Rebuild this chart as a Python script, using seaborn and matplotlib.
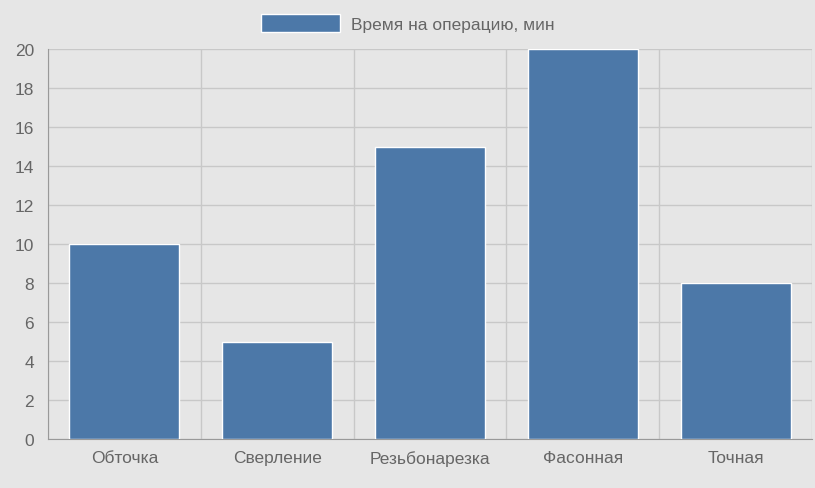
import matplotlib
matplotlib.use("Agg")
import matplotlib.pyplot as plt
import seaborn as sns
import pandas as pd
from matplotlib.patches import Patch

categories = ["Обточка", "Сверление", "Резьбонарезка", "Фасонная", "Точная"]
values = [10, 5, 15, 20, 8]
series_name = "Время на операцию, мин"
yticks = [0, 2, 4, 6, 8, 10, 12, 14, 16, 18, 20]

sns.set_style("white")
plt.rcParams['font.family'] = ['Liberation Sans', 'DejaVu Sans']
bg = "#e6e6e6"
color = "#4c78a8"
grey = "#666666"

fig = plt.figure(figsize=(8.15, 4.89), dpi=100, facecolor=bg)
ax = fig.add_axes([48/815, 49/489, 764/815, 390/489], facecolor=bg)
df = pd.DataFrame({"cat": categories, "val": values})
sns.barplot(data=df, x="cat", y="val", color=color, width=0.72, saturation=1, ax=ax, zorder=3)

ax.set_ylim(0, 20)
ax.set_xlim(-0.5, len(categories) - 0.5)
ax.set_yticks(yticks)
ax.set_xticks(range(len(categories)))
ax.set_xticklabels(categories)
ax.set_xticks([i - 0.5 for i in range(len(categories) + 1)], minor=True)
ax.grid(axis="y", color="#c8c8c8", lw=1, zorder=0)
ax.grid(axis="x", which="minor", color="#c8c8c8", lw=1, zorder=0)
ax.tick_params(axis="x", which="major", length=0, pad=8, labelsize=12.5, labelcolor=grey)
ax.tick_params(axis="x", which="minor", length=15, color="#aaaaaa", width=1)
ax.tick_params(axis="y", length=7, color="#aaaaaa", labelsize=12.5, labelcolor=grey, pad=3)
for s in ["top", "right"]:
    ax.spines[s].set_visible(False)
for s in ["left", "bottom"]:
    ax.spines[s].set_color("#999999")
ax.set_xlabel("")
ax.set_ylabel("")

fig.legend(handles=[Patch(facecolor=color, label=series_name)], loc="center",
           bbox_to_anchor=(0.5, 24/489 * -1 + 1), frameon=False, fontsize=12.5,
           labelcolor=grey, handlelength=4.6, handleheight=1.3, handletextpad=0.6)

fig.savefig("out.png", dpi=100, facecolor=bg)
